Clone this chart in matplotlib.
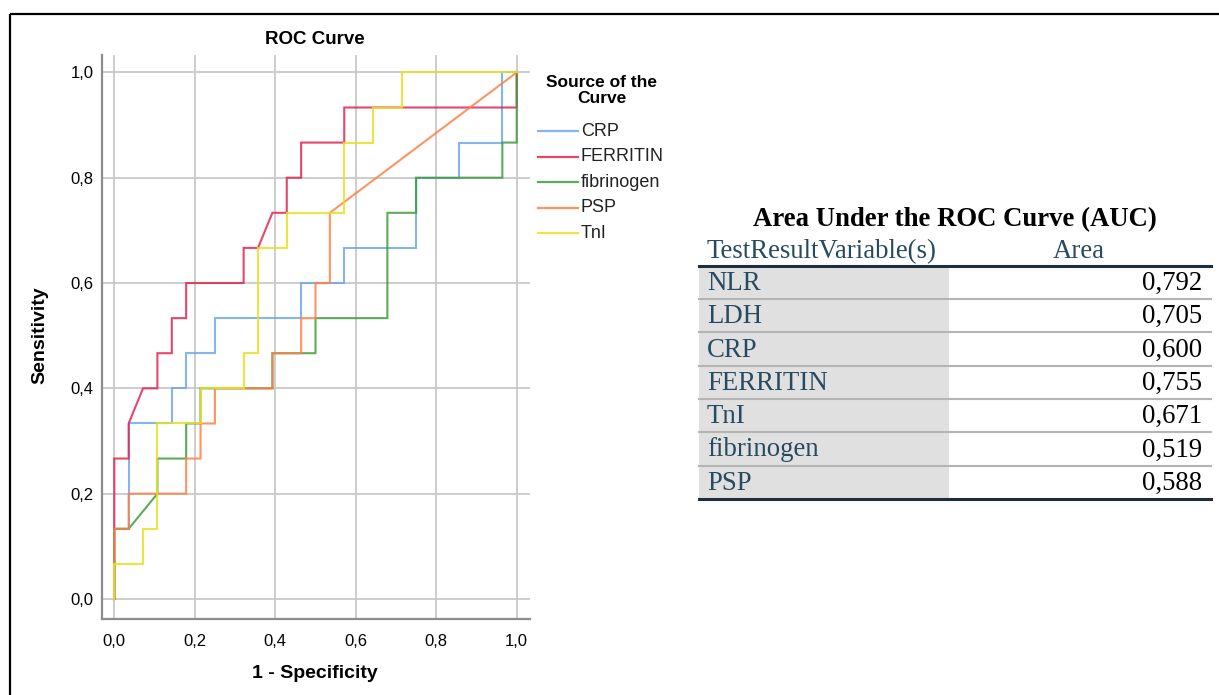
import matplotlib
matplotlib.use('Agg')
import matplotlib.pyplot as plt
from matplotlib.patches import Rectangle

W, H = 1219, 695

# ROC vertices (1 - specificity, sensitivity)
crp_fpr = [0, 0, 0.0357, 0.0357, 0.1429, 0.1429, 0.1786, 0.1786, 0.25, 0.25, 0.4643, 0.4643,
           0.5714, 0.5714, 0.75, 0.75, 0.8571, 0.8571, 0.9643, 0.9643, 1.0]
crp_tpr = [0, 0.1333, 0.1333, 0.3333, 0.3333, 0.4, 0.4, 0.4667, 0.4667, 0.5333, 0.5333, 0.6,
           0.6, 0.6667, 0.6667, 0.8, 0.8, 0.8667, 0.8667, 1.0, 1.0]

ferritin_fpr = [0, 0, 0.0357, 0.0357, 0.0714, 0.1071, 0.1071, 0.1429, 0.1429, 0.1786, 0.1786,
                0.3214, 0.3214, 0.3571, 0.3929, 0.4286, 0.4286, 0.4643, 0.4643, 0.5714, 0.5714,
                1.0, 1.0]
ferritin_tpr = [0, 0.2667, 0.2667, 0.3333, 0.4, 0.4, 0.4667, 0.4667, 0.5333, 0.5333, 0.6,
                0.6, 0.6667, 0.6667, 0.7333, 0.7333, 0.8, 0.8, 0.8667, 0.8667, 0.9333,
                0.9333, 1.0]

fibrinogen_fpr = [0, 0, 0.0357, 0.1071, 0.1071, 0.1786, 0.1786, 0.2143, 0.2143, 0.3929, 0.3929,
                  0.5, 0.5, 0.6786, 0.6786, 0.75, 0.75, 0.9643, 0.9643, 1.0, 1.0]
fibrinogen_tpr = [0, 0.1333, 0.1333, 0.2, 0.2667, 0.2667, 0.3333, 0.3333, 0.4, 0.4, 0.4667,
                  0.4667, 0.5333, 0.5333, 0.7333, 0.7333, 0.8, 0.8, 0.8667, 0.8667, 1.0]

psp_fpr = [0, 0, 0.0357, 0.0357, 0.1786, 0.1786, 0.2143, 0.2143, 0.25, 0.25, 0.3929, 0.3929,
           0.4643, 0.4643, 0.5, 0.5, 0.5357, 0.5357, 1.0]
psp_tpr = [0, 0.1333, 0.1333, 0.2, 0.2, 0.2667, 0.2667, 0.3333, 0.3333, 0.4, 0.4, 0.4667,
           0.4667, 0.5333, 0.5333, 0.6, 0.6, 0.7333, 1.0]

tni_fpr = [0, 0, 0.0714, 0.0714, 0.1071, 0.1071, 0.2143, 0.2143, 0.3214, 0.3214, 0.3571, 0.3571,
           0.4286, 0.4286, 0.5714, 0.5714, 0.6429, 0.6429, 0.7143, 0.7143, 1.0]
tni_tpr = [0, 0.0667, 0.0667, 0.1333, 0.1333, 0.3333, 0.3333, 0.4, 0.4, 0.4667, 0.4667, 0.6667,
           0.6667, 0.7333, 0.7333, 0.8667, 0.8667, 0.9333, 0.9333, 1.0, 1.0]

curve_names = ['CRP', 'FERRITIN', 'fibrinogen', 'PSP', 'TnI']
curve_colors = ['#6fa8ec', '#e2264f', '#3f9b3f', '#ff8045', '#e8e020']
curves = [(crp_fpr, crp_tpr), (ferritin_fpr, ferritin_tpr), (fibrinogen_fpr, fibrinogen_tpr),
          (psp_fpr, psp_tpr), (tni_fpr, tni_tpr)]

tick_values = [0.0, 0.2, 0.4, 0.6, 0.8, 1.0]
tick_labels = ['0,0', '0,2', '0,4', '0,6', '0,8', '1,0']

# AUC table
auc_variables = ['NLR', 'LDH', 'CRP', 'FERRITIN', 'TnI', 'fibrinogen', 'PSP']
auc_areas = ['0,792', '0,705', '0,600', '0,755', '0,671', '0,519', '0,588']

SANS = 'Liberation Sans'
SERIF = 'Liberation Serif'


def fx(px):
    return px / W


def fy(py):
    return 1 - py / H


fig = plt.figure(figsize=(W / 100, H / 100), dpi=100)

# ---- ROC chart ----
ax = fig.add_axes([fx(101.7), fy(619), (530 - 101.7) / W, (619 - 55) / H])
ax.set_xlim(-0.0313, 1.033)
ax.set_ylim(-0.038, 1.033)
ax.set_xticks(tick_values)
ax.set_xticklabels(tick_labels, fontfamily=SANS, fontsize=12)
ax.set_yticks(tick_values)
ax.set_yticklabels(tick_labels, fontfamily=SANS, fontsize=12)
ax.tick_params(length=0)
ax.tick_params(axis='x', pad=11)
ax.tick_params(axis='y', pad=6)
ax.grid(True, color='#c9c9c9', linewidth=1.3)
ax.set_axisbelow(True)
for s in ['top', 'right']:
    ax.spines[s].set_visible(False)
for s in ['left', 'bottom']:
    ax.spines[s].set_color('#8c8c8c')
    ax.spines[s].set_linewidth(1.6)

for (fpr, tpr), c in zip(curves, curve_colors):
    ax.plot(fpr, tpr, color=c, linewidth=1.5, alpha=0.85, solid_joinstyle='miter')

# overlay in pixel coordinates for text, legend, table
ov = fig.add_axes([0, 0, 1, 1], facecolor='none')
ov.set_xlim(0, W)
ov.set_ylim(H, 0)
ov.axis('off')

ov.text(315, 40, 'ROC Curve', family=SANS, fontsize=13.5, fontweight='bold',
        ha='center', va='center')
ov.text(315, 673, '1 - Specificity', family=SANS, fontsize=14, fontweight='bold',
        ha='center', va='center')
ov.text(40, 335, 'Sensitivity', family=SANS, fontsize=14, fontweight='bold',
        ha='center', va='center', rotation=90)

# legend
ov.text(602, 90.5, 'Source of the\nCurve', family=SANS, fontsize=12.5, fontweight='bold',
        ha='center', va='center', linespacing=1.12)
for i, (name, c) in enumerate(zip(curve_names, curve_colors)):
    yy = 131 + i * 25.6
    ov.plot([538, 578], [yy, yy], color=c, linewidth=1.6, alpha=0.85)
    ov.text(581, yy, name, family=SANS, fontsize=13, ha='left', va='center', color='#222222')

# page border (top and left only)
ov.plot([10, 10], [14, H], color='black', linewidth=1.6, solid_capstyle='butt')
ov.plot([10, W], [14, 14], color='black', linewidth=1.6, solid_capstyle='butt')

# ---- AUC table ----
lab_color = '#264a60'
tx0, tx1, tsplit = 699, 1211, 949
top = 265.7
row_h = 33.3
n = len(auc_variables)
ov.add_patch(Rectangle((tx0, top), tsplit - tx0, row_h * n, facecolor='#e0e0e0',
                       edgecolor='none', zorder=1))
ov.text(955, 226.5, 'Area Under the ROC Curve (AUC)', family=SERIF, fontsize=19.3,
        fontweight='bold', ha='center', va='baseline')
ov.text(707, 258.3, 'TestResultVariable(s)', family=SERIF, fontsize=19.3, color=lab_color,
        ha='left', va='baseline')
ov.text(1079, 258.3, 'Area', family=SERIF, fontsize=19.3, color=lab_color,
        ha='center', va='baseline')
for i, (var, area) in enumerate(zip(auc_variables, auc_areas)):
    base = top + row_h * (i + 1) - 9
    ov.text(707, base, var, family=SERIF, fontsize=19.3, color=lab_color,
            ha='left', va='baseline', zorder=3)
    ov.text(1202, base, area, family=SERIF, fontsize=19.3, color='black',
            ha='right', va='baseline', zorder=3)
    if i < n - 1:
        yl = top + row_h * (i + 1)
        ov.plot([tx0, tx1], [yl, yl], color='#b4b4b4', linewidth=1.5, zorder=2)
for yl in [top, top + row_h * n]:
    ov.plot([tx0, tx1], [yl, yl], color='#1d2f3d', linewidth=2.2, zorder=2)

fig.savefig('out.png', dpi=100)
